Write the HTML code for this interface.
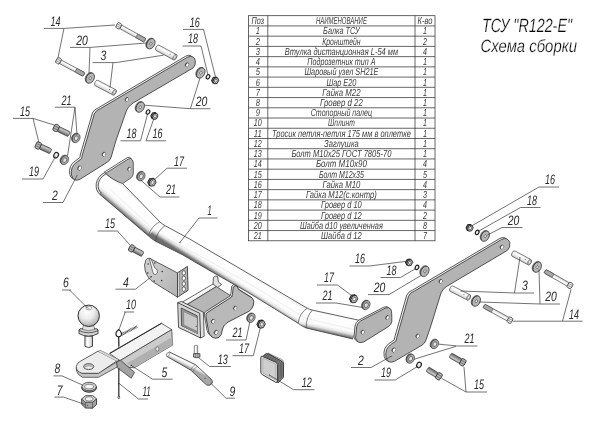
<!DOCTYPE html>
<html><head><meta charset="utf-8"><title>TSU R122-E</title>
<style>
html,body{margin:0;padding:0;background:#fff;}
svg{display:block}
text{font-family:"Liberation Sans",sans-serif;font-style:italic;fill:#2b2b2b;text-rendering:geometricPrecision;}
.lb{fill:#2a2a2a;}
.tb{fill:#3a3a3a}
.tt{stroke:#fff;stroke-width:0.25px;paint-order:fill stroke;fill:#080808}
</style></head><body>
<svg width="600" height="424" viewBox="0 0 600 424">
<defs>
<linearGradient id="gcyl" x1="0" y1="0" x2="0" y2="1">
<stop offset="0" stop-color="#e9e9e9"/><stop offset="0.3" stop-color="#ffffff"/><stop offset="0.75" stop-color="#e2e2e2"/><stop offset="1" stop-color="#bdbdbd"/>
</linearGradient>
<linearGradient id="gtube" x1="0" y1="0" x2="0" y2="1">
<stop offset="0" stop-color="#f0f0f0"/><stop offset="0.25" stop-color="#ffffff"/><stop offset="0.7" stop-color="#f1f1f1"/><stop offset="0.92" stop-color="#cfcfcf"/><stop offset="1" stop-color="#b0b0b0"/>
</linearGradient>
<radialGradient id="gball" cx="0.42" cy="0.32" r="0.75">
<stop offset="0" stop-color="#ffffff"/><stop offset="0.45" stop-color="#ececec"/><stop offset="0.8" stop-color="#bcbcbc"/><stop offset="1" stop-color="#888888"/>
</radialGradient>
<linearGradient id="gtubeL" gradientUnits="userSpaceOnUse" x1="141" y1="202.5" x2="128" y2="218">
<stop offset="0" stop-color="#f3f3f3"/><stop offset="0.1" stop-color="#ffffff"/><stop offset="0.66" stop-color="#fbfbfb"/><stop offset="0.8" stop-color="#e2e2e2"/><stop offset="0.9" stop-color="#a6a6a6"/><stop offset="1" stop-color="#6e6e6e"/></linearGradient>
<linearGradient id="gtubeC" gradientUnits="userSpaceOnUse" x1="236" y1="266.3" x2="227" y2="280.8">
<stop offset="0" stop-color="#f3f3f3"/><stop offset="0.1" stop-color="#ffffff"/><stop offset="0.66" stop-color="#fbfbfb"/><stop offset="0.8" stop-color="#e2e2e2"/><stop offset="0.9" stop-color="#a6a6a6"/><stop offset="1" stop-color="#6e6e6e"/></linearGradient>
<linearGradient id="gtubeR" gradientUnits="userSpaceOnUse" x1="335" y1="315" x2="331" y2="333.8">
<stop offset="0" stop-color="#f3f3f3"/><stop offset="0.1" stop-color="#ffffff"/><stop offset="0.66" stop-color="#fbfbfb"/><stop offset="0.8" stop-color="#e2e2e2"/><stop offset="0.9" stop-color="#a6a6a6"/><stop offset="1" stop-color="#6e6e6e"/></linearGradient>
<linearGradient id="gshank" x1="0" y1="0" x2="1" y2="0">
<stop offset="0" stop-color="#d5d5d5"/><stop offset="0.35" stop-color="#ffffff"/><stop offset="0.75" stop-color="#e0e0e0"/><stop offset="1" stop-color="#b0b0b0"/></linearGradient>
<linearGradient id="gthr" x1="0" y1="0" x2="0" y2="1">
<stop offset="0" stop-color="#9a9a9a"/><stop offset="0.3" stop-color="#c4c4c4"/><stop offset="0.7" stop-color="#8c8c8c"/><stop offset="1" stop-color="#666"/></linearGradient>
<linearGradient id="gpin" gradientUnits="userSpaceOnUse" x1="190" y1="362" x2="187.5" y2="367">
<stop offset="0" stop-color="#dcdcdc"/><stop offset="0.3" stop-color="#ffffff"/><stop offset="0.7" stop-color="#dedede"/><stop offset="1" stop-color="#a8a8a8"/></linearGradient>
<linearGradient id="gsock" gradientUnits="userSpaceOnUse" x1="145" y1="270" x2="178" y2="285">
<stop offset="0" stop-color="#cfcfcf"/><stop offset="1" stop-color="#b6b6b6"/></linearGradient>
</defs>
<rect width="600" height="424" fill="#fff"/>
<mask id="mm" maskUnits="userSpaceOnUse" x="0" y="0" width="600" height="424"><rect width="600" height="424" fill="#fff"/></mask>
<g mask="url(#mm)">

<g stroke="#333" stroke-width="0.75" fill="none">
<rect x="248.5" y="15.7" width="186.5" height="225.10"/>
<line x1="248.5" y1="25.93" x2="435" y2="25.93"/>
<line x1="248.5" y1="36.16" x2="435" y2="36.16"/>
<line x1="248.5" y1="46.40" x2="435" y2="46.40"/>
<line x1="248.5" y1="56.63" x2="435" y2="56.63"/>
<line x1="248.5" y1="66.86" x2="435" y2="66.86"/>
<line x1="248.5" y1="77.09" x2="435" y2="77.09"/>
<line x1="248.5" y1="87.32" x2="435" y2="87.32"/>
<line x1="248.5" y1="97.55" x2="435" y2="97.55"/>
<line x1="248.5" y1="107.79" x2="435" y2="107.79"/>
<line x1="248.5" y1="118.02" x2="435" y2="118.02"/>
<line x1="248.5" y1="128.25" x2="435" y2="128.25"/>
<line x1="248.5" y1="138.48" x2="435" y2="138.48"/>
<line x1="248.5" y1="148.71" x2="435" y2="148.71"/>
<line x1="248.5" y1="158.95" x2="435" y2="158.95"/>
<line x1="248.5" y1="169.18" x2="435" y2="169.18"/>
<line x1="248.5" y1="179.41" x2="435" y2="179.41"/>
<line x1="248.5" y1="189.64" x2="435" y2="189.64"/>
<line x1="248.5" y1="199.87" x2="435" y2="199.87"/>
<line x1="248.5" y1="210.10" x2="435" y2="210.10"/>
<line x1="248.5" y1="220.34" x2="435" y2="220.34"/>
<line x1="248.5" y1="230.57" x2="435" y2="230.57"/>
<line x1="267.8" y1="15.7" x2="267.8" y2="240.80"/>
<line x1="415" y1="15.7" x2="415" y2="240.80"/>
</g>
<text x="257.84999999999997" y="24.13" font-size="10.2" text-anchor="middle" textLength="12.5" lengthAdjust="spacingAndGlyphs" class="tb">Поз</text>
<text x="341.4" y="24.13" font-size="10.2" text-anchor="middle" textLength="51" lengthAdjust="spacingAndGlyphs" class="tb">НАИМЕНОВАНИЕ</text>
<text x="425.0" y="24.13" font-size="10.2" text-anchor="middle" textLength="15" lengthAdjust="spacingAndGlyphs" class="tb">К-во</text>
<text x="257.84999999999997" y="34.36" font-size="10.2" text-anchor="middle" textLength="4.2" lengthAdjust="spacingAndGlyphs" class="tb">1</text>
<text x="341.4" y="34.36" font-size="10.2" text-anchor="middle" textLength="36.6" lengthAdjust="spacingAndGlyphs" class="tb">Балка ТСУ</text>
<text x="425.0" y="34.36" font-size="10.2" text-anchor="middle" textLength="4.0" lengthAdjust="spacingAndGlyphs" class="tb">1</text>
<text x="257.84999999999997" y="44.60" font-size="10.2" text-anchor="middle" textLength="4.2" lengthAdjust="spacingAndGlyphs" class="tb">2</text>
<text x="341.4" y="44.60" font-size="10.2" text-anchor="middle" textLength="38.3" lengthAdjust="spacingAndGlyphs" class="tb">Кронштейн</text>
<text x="425.0" y="44.60" font-size="10.2" text-anchor="middle" textLength="4.0" lengthAdjust="spacingAndGlyphs" class="tb">2</text>
<text x="257.84999999999997" y="54.83" font-size="10.2" text-anchor="middle" textLength="4.2" lengthAdjust="spacingAndGlyphs" class="tb">3</text>
<text x="341.4" y="54.83" font-size="10.2" text-anchor="middle" textLength="113.3" lengthAdjust="spacingAndGlyphs" class="tb">Втулка дистанционная L-54 мм</text>
<text x="425.0" y="54.83" font-size="10.2" text-anchor="middle" textLength="4.0" lengthAdjust="spacingAndGlyphs" class="tb">4</text>
<text x="257.84999999999997" y="65.06" font-size="10.2" text-anchor="middle" textLength="4.2" lengthAdjust="spacingAndGlyphs" class="tb">4</text>
<text x="341.4" y="65.06" font-size="10.2" text-anchor="middle" textLength="68.3" lengthAdjust="spacingAndGlyphs" class="tb">Подрозетник тип А</text>
<text x="425.0" y="65.06" font-size="10.2" text-anchor="middle" textLength="4.0" lengthAdjust="spacingAndGlyphs" class="tb">1</text>
<text x="257.84999999999997" y="75.29" font-size="10.2" text-anchor="middle" textLength="4.2" lengthAdjust="spacingAndGlyphs" class="tb">5</text>
<text x="341.4" y="75.29" font-size="10.2" text-anchor="middle" textLength="74" lengthAdjust="spacingAndGlyphs" class="tb">Шаровый узел SH21E</text>
<text x="425.0" y="75.29" font-size="10.2" text-anchor="middle" textLength="4.0" lengthAdjust="spacingAndGlyphs" class="tb">1</text>
<text x="257.84999999999997" y="85.52" font-size="10.2" text-anchor="middle" textLength="4.2" lengthAdjust="spacingAndGlyphs" class="tb">6</text>
<text x="341.4" y="85.52" font-size="10.2" text-anchor="middle" textLength="30" lengthAdjust="spacingAndGlyphs" class="tb">Шар Е20</text>
<text x="425.0" y="85.52" font-size="10.2" text-anchor="middle" textLength="4.0" lengthAdjust="spacingAndGlyphs" class="tb">1</text>
<text x="257.84999999999997" y="95.75" font-size="10.2" text-anchor="middle" textLength="4.2" lengthAdjust="spacingAndGlyphs" class="tb">7</text>
<text x="341.4" y="95.75" font-size="10.2" text-anchor="middle" textLength="38.3" lengthAdjust="spacingAndGlyphs" class="tb">Гайка М22</text>
<text x="425.0" y="95.75" font-size="10.2" text-anchor="middle" textLength="4.0" lengthAdjust="spacingAndGlyphs" class="tb">1</text>
<text x="257.84999999999997" y="105.99" font-size="10.2" text-anchor="middle" textLength="4.2" lengthAdjust="spacingAndGlyphs" class="tb">8</text>
<text x="341.4" y="105.99" font-size="10.2" text-anchor="middle" textLength="42.7" lengthAdjust="spacingAndGlyphs" class="tb">Гровер d 22</text>
<text x="425.0" y="105.99" font-size="10.2" text-anchor="middle" textLength="4.0" lengthAdjust="spacingAndGlyphs" class="tb">1</text>
<text x="257.84999999999997" y="116.22" font-size="10.2" text-anchor="middle" textLength="4.2" lengthAdjust="spacingAndGlyphs" class="tb">9</text>
<text x="341.4" y="116.22" font-size="10.2" text-anchor="middle" textLength="61.3" lengthAdjust="spacingAndGlyphs" class="tb">Стопорный палец</text>
<text x="425.0" y="116.22" font-size="10.2" text-anchor="middle" textLength="4.0" lengthAdjust="spacingAndGlyphs" class="tb">1</text>
<text x="257.84999999999997" y="126.45" font-size="10.2" text-anchor="middle" textLength="8.0" lengthAdjust="spacingAndGlyphs" class="tb">10</text>
<text x="341.4" y="126.45" font-size="10.2" text-anchor="middle" textLength="26.7" lengthAdjust="spacingAndGlyphs" class="tb">Шплинт</text>
<text x="425.0" y="126.45" font-size="10.2" text-anchor="middle" textLength="4.0" lengthAdjust="spacingAndGlyphs" class="tb">1</text>
<text x="257.84999999999997" y="136.68" font-size="10.2" text-anchor="middle" textLength="8.0" lengthAdjust="spacingAndGlyphs" class="tb">11</text>
<text x="341.4" y="136.68" font-size="10.2" text-anchor="middle" textLength="138.9" lengthAdjust="spacingAndGlyphs" class="tb">Тросик петля-петля 175 мм в оплетке</text>
<text x="425.0" y="136.68" font-size="10.2" text-anchor="middle" textLength="4.0" lengthAdjust="spacingAndGlyphs" class="tb">1</text>
<text x="257.84999999999997" y="146.91" font-size="10.2" text-anchor="middle" textLength="8.0" lengthAdjust="spacingAndGlyphs" class="tb">12</text>
<text x="341.4" y="146.91" font-size="10.2" text-anchor="middle" textLength="34.7" lengthAdjust="spacingAndGlyphs" class="tb">Заглушка</text>
<text x="425.0" y="146.91" font-size="10.2" text-anchor="middle" textLength="4.0" lengthAdjust="spacingAndGlyphs" class="tb">1</text>
<text x="257.84999999999997" y="157.15" font-size="10.2" text-anchor="middle" textLength="8.0" lengthAdjust="spacingAndGlyphs" class="tb">13</text>
<text x="341.4" y="157.15" font-size="10.2" text-anchor="middle" textLength="100" lengthAdjust="spacingAndGlyphs" class="tb">Болт М10х25 ГОСТ 7805-70</text>
<text x="425.0" y="157.15" font-size="10.2" text-anchor="middle" textLength="4.0" lengthAdjust="spacingAndGlyphs" class="tb">1</text>
<text x="257.84999999999997" y="167.38" font-size="10.2" text-anchor="middle" textLength="8.0" lengthAdjust="spacingAndGlyphs" class="tb">14</text>
<text x="341.4" y="167.38" font-size="10.2" text-anchor="middle" textLength="51" lengthAdjust="spacingAndGlyphs" class="tb">Болт  М10х90</text>
<text x="425.0" y="167.38" font-size="10.2" text-anchor="middle" textLength="4.0" lengthAdjust="spacingAndGlyphs" class="tb">4</text>
<text x="257.84999999999997" y="177.61" font-size="10.2" text-anchor="middle" textLength="8.0" lengthAdjust="spacingAndGlyphs" class="tb">15</text>
<text x="341.4" y="177.61" font-size="10.2" text-anchor="middle" textLength="45" lengthAdjust="spacingAndGlyphs" class="tb">Болт М12х35</text>
<text x="425.0" y="177.61" font-size="10.2" text-anchor="middle" textLength="4.0" lengthAdjust="spacingAndGlyphs" class="tb">5</text>
<text x="257.84999999999997" y="187.84" font-size="10.2" text-anchor="middle" textLength="8.0" lengthAdjust="spacingAndGlyphs" class="tb">16</text>
<text x="341.4" y="187.84" font-size="10.2" text-anchor="middle" textLength="37.7" lengthAdjust="spacingAndGlyphs" class="tb">Гайка М10</text>
<text x="425.0" y="187.84" font-size="10.2" text-anchor="middle" textLength="4.0" lengthAdjust="spacingAndGlyphs" class="tb">4</text>
<text x="257.84999999999997" y="198.07" font-size="10.2" text-anchor="middle" textLength="8.0" lengthAdjust="spacingAndGlyphs" class="tb">17</text>
<text x="341.4" y="198.07" font-size="10.2" text-anchor="middle" textLength="70.9" lengthAdjust="spacingAndGlyphs" class="tb">Гайка М12(с.контр)</text>
<text x="425.0" y="198.07" font-size="10.2" text-anchor="middle" textLength="4.0" lengthAdjust="spacingAndGlyphs" class="tb">3</text>
<text x="257.84999999999997" y="208.30" font-size="10.2" text-anchor="middle" textLength="8.0" lengthAdjust="spacingAndGlyphs" class="tb">18</text>
<text x="341.4" y="208.30" font-size="10.2" text-anchor="middle" textLength="40.7" lengthAdjust="spacingAndGlyphs" class="tb">Гровер d 10</text>
<text x="425.0" y="208.30" font-size="10.2" text-anchor="middle" textLength="4.0" lengthAdjust="spacingAndGlyphs" class="tb">4</text>
<text x="257.84999999999997" y="218.54" font-size="10.2" text-anchor="middle" textLength="8.0" lengthAdjust="spacingAndGlyphs" class="tb">19</text>
<text x="341.4" y="218.54" font-size="10.2" text-anchor="middle" textLength="40.7" lengthAdjust="spacingAndGlyphs" class="tb">Гровер d 12</text>
<text x="425.0" y="218.54" font-size="10.2" text-anchor="middle" textLength="4.0" lengthAdjust="spacingAndGlyphs" class="tb">2</text>
<text x="257.84999999999997" y="228.77" font-size="10.2" text-anchor="middle" textLength="8.0" lengthAdjust="spacingAndGlyphs" class="tb">20</text>
<text x="341.4" y="228.77" font-size="10.2" text-anchor="middle" textLength="83" lengthAdjust="spacingAndGlyphs" class="tb">Шайба d10 увеличенная</text>
<text x="425.0" y="228.77" font-size="10.2" text-anchor="middle" textLength="4.0" lengthAdjust="spacingAndGlyphs" class="tb">8</text>
<text x="257.84999999999997" y="239.00" font-size="10.2" text-anchor="middle" textLength="8.0" lengthAdjust="spacingAndGlyphs" class="tb">21</text>
<text x="341.4" y="239.00" font-size="10.2" text-anchor="middle" textLength="40.7" lengthAdjust="spacingAndGlyphs" class="tb">Шайба d 12</text>
<text x="425.0" y="239.00" font-size="10.2" text-anchor="middle" textLength="4.0" lengthAdjust="spacingAndGlyphs" class="tb">7</text>
<text x="482" y="32.2" font-size="19.3" textLength="90" lengthAdjust="spacingAndGlyphs" class="tt">ТСУ "R122-E"</text>
<text x="480.5" y="52.2" font-size="17.8" textLength="96.5" lengthAdjust="spacingAndGlyphs" class="tt">Схема сборки</text>
<g stroke-linejoin="round">
<path d="M104.5,173 L122.7,183.6 L159.8,221.8 L148.5,235.9 L99.7,194.2 Q95.5,190 96.3,183.5 Q98,176.5 104.5,173 Z" fill="url(#gtubeL)" stroke="none"/>
<path d="M159.8,221.8 L165.1,225.7 L190,239.2 L250,274.5 L307.2,308.2 L298.2,323.3 L250,293.6 L200,265 L183,255 L155.5,241.2 L148.5,235.9 Z" fill="url(#gtubeC)" stroke="none"/>
<path d="M307.2,308.2 L312.4,310.1 L360.6,320.6 L353,339 L306.2,328 L298.2,323.3 Z" fill="url(#gtubeR)" stroke="none"/>
<path d="M122.7,183.6 L159.8,221.8 Q162.2,224 165.1,225.7 L190,239.2 L250,274.5 L307.2,308.2 Q309.5,309.5 312.4,310.1 L360.6,320.6" fill="none" stroke="#2e2e2e" stroke-width="0.75"/>
<path d="M99.7,194.2 L148.5,235.9 Q151.6,239 155.5,241.2 L183,255 L200,265 L250,293.6 L298.2,323.3 Q302,326.4 306.2,328 L353,339" fill="none" stroke="#3a3a3a" stroke-width="0.8"/>
<path d="M110,189 L155.5,231.5 Q158,233.8 160.5,235.3 L200,256 L250,284 L301,315.5 Q305,318 308,318.8 L356,330" fill="none" stroke="#dadada" stroke-width="0.4"/>
<path d="M159.8,221.8 Q150.75,226.45000000000002 148.5,235.9" fill="none" stroke="#333" stroke-width="0.6"/>
<path d="M165.1,225.7 Q156.9,231.04999999999998 155.5,241.2" fill="none" stroke="#333" stroke-width="0.6"/>
<path d="M307.2,308.2 Q299.3,313.35 298.2,323.3" fill="none" stroke="#333" stroke-width="0.6"/>
<path d="M312.4,310.1 Q305.9,316.65000000000003 306.2,328" fill="none" stroke="#333" stroke-width="0.6"/>
<path d="M105.6,173.3 L128.6,158.8 Q131.3,157.6 132.6,160 L133.3,163 L133.3,173.6 Q133,176.3 131,177.8 L122.7,183.6 Q113,180.5 105.6,173.3 Z" transform="translate(-1.3,-1.2)" fill="#f4f4f4" stroke="#2e2e2e" stroke-width="0.75" stroke-linejoin="round"/>
<path d="M105.6,173.3 L128.6,158.8 Q131.3,157.6 132.6,160 L133.3,163 L133.3,173.6 Q133,176.3 131,177.8 L122.7,183.6 Q113,180.5 105.6,173.3 Z" fill="#b3b3b3" stroke="#2e2e2e" stroke-width="0.7" stroke-linejoin="round"/>
<g transform="translate(129.2,169) rotate(28)"><ellipse rx="1.5" ry="2.0" fill="#5a5a5a" stroke="#2a2a2a" stroke-width="0.55"/><ellipse cx="0.45" rx="1.05" ry="1.75" fill="#fafafa"/></g>
<path d="M104.5,172.6 Q97.5,176.5 96.2,183.8 Q95.4,190.5 99.9,194.4 L101.2,193.2 Q97.6,189.8 98.3,184 Q99.4,177.6 105.8,174 Z" fill="#e9e9e9" stroke="#2e2e2e" stroke-width="0.75" stroke-linejoin="round"/>
</g>
<path d="M360.5,321 L385.5,308 Q389,306.5 391,309.5 Q392,312 391.8,321.5 Q391.5,324.5 388.5,326.5 L364,341.8 Q357.5,344.5 355.6,338 L356.6,327 Q357.3,322.8 360.5,321 Z" transform="translate(-1.6,-0.9)" fill="#f2f2f2" stroke="#2e2e2e" stroke-width="0.8" stroke-linejoin="round"/>
<path d="M360.5,321 L385.5,308 Q389,306.5 391,309.5 Q392,312 391.8,321.5 Q391.5,324.5 388.5,326.5 L364,341.8 Q357.5,344.5 355.6,338 L356.6,327 Q357.3,322.8 360.5,321 Z" fill="#b3b3b3" stroke="#2e2e2e" stroke-width="0.8" stroke-linejoin="round"/>
<g transform="translate(387.3,317.5) rotate(28)"><ellipse rx="1.5" ry="2.0" fill="#5a5a5a" stroke="#2a2a2a" stroke-width="0.55"/><ellipse cx="0.45" rx="1.05" ry="1.75" fill="#fafafa"/></g>
<g transform="translate(362.6,332) rotate(28)"><ellipse rx="1.5" ry="2.0" fill="#5a5a5a" stroke="#2a2a2a" stroke-width="0.55"/><ellipse cx="0.45" rx="1.05" ry="1.75" fill="#fafafa"/></g>
<path d="M100.5,108.6 L187.5,57.2 Q193.5,54.4 195.3,60.5 Q196,65.5 193,68 L133,103 Q128,106 126.3,111 L115.8,141 L111.2,157 Q110.3,160.3 107.5,162 L80,179.3 Q73.5,182.3 71.6,175.5 Q70,166.5 77,162 L81.6,158.6 L82.3,155 L94.3,113.8 Q95.8,110.3 100.5,108.6 Z" transform="translate(-1.8,-1.0)" fill="#f2f2f2" stroke="#2e2e2e" stroke-width="0.8" stroke-linejoin="round"/>
<path d="M100.5,108.6 L187.5,57.2 Q193.5,54.4 195.3,60.5 Q196,65.5 193,68 L133,103 Q128,106 126.3,111 L115.8,141 L111.2,157 Q110.3,160.3 107.5,162 L80,179.3 Q73.5,182.3 71.6,175.5 Q70,166.5 77,162 L81.6,158.6 L82.3,155 L94.3,113.8 Q95.8,110.3 100.5,108.6 Z" fill="#b3b3b3" stroke="#2e2e2e" stroke-width="0.8" stroke-linejoin="round"/>
<g transform="translate(187,64.8) rotate(28)"><ellipse rx="1.6" ry="2.1" fill="#5a5a5a" stroke="#2a2a2a" stroke-width="0.55"/><ellipse cx="0.45" rx="1.1500000000000001" ry="1.85" fill="#fafafa"/></g>
<g transform="translate(126.8,99.4) rotate(28)"><ellipse rx="1.5" ry="2.0" fill="#5a5a5a" stroke="#2a2a2a" stroke-width="0.55"/><ellipse cx="0.45" rx="1.05" ry="1.75" fill="#fafafa"/></g>
<g transform="translate(103.8,154.2) rotate(28)"><ellipse rx="1.6" ry="2.1" fill="#5a5a5a" stroke="#2a2a2a" stroke-width="0.55"/><ellipse cx="0.45" rx="1.1500000000000001" ry="1.85" fill="#fafafa"/></g>
<g transform="translate(79.5,168) rotate(28)"><ellipse rx="1.7" ry="2.2" fill="#5a5a5a" stroke="#2a2a2a" stroke-width="0.55"/><ellipse cx="0.45" rx="1.25" ry="1.9500000000000002" fill="#fafafa"/></g>
<circle cx="77" cy="175.3" r="0.5" fill="#333"/>
<path d="M414.5,291 L501.5,239.5 Q507.5,236.5 509.8,242.5 Q510.5,247.5 507.5,250.3 L446.5,286.5 Q442.5,289 441,293 L430.5,327 L426,340 Q425,343.3 422.2,345 L394.5,361.3 Q388,364.3 386,357.5 Q384.5,348.5 391.5,344 L396,341 L396.8,337.4 L408.5,296.3 Q410,292.6 414.5,291 Z" transform="translate(-1.8,-1.0)" fill="#f2f2f2" stroke="#2e2e2e" stroke-width="0.8" stroke-linejoin="round"/>
<path d="M414.5,291 L501.5,239.5 Q507.5,236.5 509.8,242.5 Q510.5,247.5 507.5,250.3 L446.5,286.5 Q442.5,289 441,293 L430.5,327 L426,340 Q425,343.3 422.2,345 L394.5,361.3 Q388,364.3 386,357.5 Q384.5,348.5 391.5,344 L396,341 L396.8,337.4 L408.5,296.3 Q410,292.6 414.5,291 Z" fill="#b3b3b3" stroke="#2e2e2e" stroke-width="0.8" stroke-linejoin="round"/>
<g transform="translate(501.8,247) rotate(28)"><ellipse rx="1.6" ry="2.1" fill="#5a5a5a" stroke="#2a2a2a" stroke-width="0.55"/><ellipse cx="0.45" rx="1.1500000000000001" ry="1.85" fill="#fafafa"/></g>
<g transform="translate(440.6,281.3) rotate(28)"><ellipse rx="1.5" ry="2.0" fill="#5a5a5a" stroke="#2a2a2a" stroke-width="0.55"/><ellipse cx="0.45" rx="1.05" ry="1.75" fill="#fafafa"/></g>
<g transform="translate(417.6,336) rotate(28)"><ellipse rx="1.6" ry="2.1" fill="#5a5a5a" stroke="#2a2a2a" stroke-width="0.55"/><ellipse cx="0.45" rx="1.1500000000000001" ry="1.85" fill="#fafafa"/></g>
<g transform="translate(393.8,350) rotate(28)"><ellipse rx="1.7" ry="2.2" fill="#5a5a5a" stroke="#2a2a2a" stroke-width="0.55"/><ellipse cx="0.45" rx="1.25" ry="1.9500000000000002" fill="#fafafa"/></g>
<circle cx="391.2" cy="356.3" r="0.5" fill="#333"/>
<path d="M177.5,272.9 L187.4,266.4 L188.1,290.3 L177.5,297.1 Z" fill="#b4b4b4" stroke="#2e2e2e" stroke-width="0.85" stroke-linejoin="round"/>
<path d="M177.5,272.9 L179.3,271.8 L179.3,296 L177.5,297.1 Z" fill="#e6e6e6" stroke="#2e2e2e" stroke-width="0.4"/>
<ellipse cx="183.8" cy="272.9" rx="1.7" ry="2.2" fill="#fbfbfb" stroke="#2a2a2a" stroke-width="0.6"/>
<ellipse cx="183.8" cy="278.3" rx="1.7" ry="2.2" fill="#fbfbfb" stroke="#2a2a2a" stroke-width="0.6"/>
<ellipse cx="183.8" cy="283.9" rx="1.7" ry="2.2" fill="#fbfbfb" stroke="#2a2a2a" stroke-width="0.6"/>
<ellipse cx="183.8" cy="289.2" rx="1.7" ry="2.2" fill="#fbfbfb" stroke="#2a2a2a" stroke-width="0.6"/>
<path d="M149.6,258.3 L177.5,272.9 L177.5,297.1 L154.2,282.7 Q147.5,278.5 145.3,271 Q143.6,264.5 145.8,260.3 Q147.3,257.6 149.6,258.3 Z" fill="url(#gsock)" stroke="#2e2e2e" stroke-width="0.75" stroke-linejoin="round"/>
<path d="M149.4,258.8 L152.6,271.3 Q153,274.8 155.6,274.6 Q158,273.6 157.3,270.6 Q156.5,268.6 154.6,267.6 L151,258.7 Z" fill="#f8f8f8" stroke="#2a2a2a" stroke-width="0.6" stroke-linejoin="round"/>
<circle cx="148.1" cy="263.9" r="0.75" fill="#2a2a2a"/>
<circle cx="154.9" cy="263.1" r="0.75" fill="#2a2a2a"/>
<circle cx="147.8" cy="272.9" r="0.75" fill="#2a2a2a"/>
<circle cx="162.2" cy="271.4" r="0.75" fill="#2a2a2a"/>
<circle cx="151.1" cy="276.7" r="0.75" fill="#2a2a2a"/>
<circle cx="154.2" cy="280.9" r="0.75" fill="#2a2a2a"/>
<circle cx="161.7" cy="280.5" r="0.75" fill="#2a2a2a"/>
<path d="M213,285 L213.4,277.4 Q215.5,275.4 217.6,276.4 L218.4,282 L221.5,284.5 L217,288 Z" fill="#e2e2e2" stroke="#2e2e2e" stroke-width="0.75" stroke-linejoin="round"/>
<path d="M181.3,302.7 L213,284 L216.3,286.6 L187,304.6 Z" fill="#f6f6f6" stroke="#2e2e2e" stroke-width="0.7" stroke-linejoin="round"/>
<path d="M187,304.6 L216.3,286.6 L232,296.6 L204.2,313.3 Z" fill="#b6b6b6" stroke="#2e2e2e" stroke-width="0.7" stroke-linejoin="round"/>
<path d="M231.6,297 L232.4,294.5 L233.3,287 Q234.8,285 237,286 L238.6,289.5 L252.5,298.2 Q254.6,301 253.4,305 Q252,309.5 249,311.3 L228,322.1 Q223.4,324.6 222.5,329 L221.3,334.5 Q219.6,338.4 215.5,338.3 Q210.6,337.5 208.6,331.8 L206.8,321.2 L205.9,316.3 Q205.6,313.8 207.2,312.6 Z" transform="translate(-1.5,-1.1)" fill="#f0f0f0" stroke="#2e2e2e" stroke-width="0.75" stroke-linejoin="round"/>
<path d="M231.6,297 L232.4,294.5 L233.3,287 Q234.8,285 237,286 L238.6,289.5 L252.5,298.2 Q254.6,301 253.4,305 Q252,309.5 249,311.3 L228,322.1 Q223.4,324.6 222.5,329 L221.3,334.5 Q219.6,338.4 215.5,338.3 Q210.6,337.5 208.6,331.8 L206.8,321.2 L205.9,316.3 Q205.6,313.8 207.2,312.6 Z" fill="#b9b9b9" stroke="#2e2e2e" stroke-width="0.85" stroke-linejoin="round"/>
<g transform="translate(235.1,308) rotate(28)"><ellipse rx="1.5" ry="2.0" fill="#5a5a5a" stroke="#2a2a2a" stroke-width="0.55"/><ellipse cx="0.45" rx="1.05" ry="1.75" fill="#fafafa"/></g>
<g transform="translate(213,321.2) rotate(28)"><ellipse rx="1.6" ry="2.1" fill="#5a5a5a" stroke="#2a2a2a" stroke-width="0.55"/><ellipse cx="0.45" rx="1.1500000000000001" ry="1.85" fill="#fafafa"/></g>
<g transform="translate(216,332.3) rotate(28)"><ellipse rx="1.7" ry="2.2" fill="#5a5a5a" stroke="#2a2a2a" stroke-width="0.55"/><ellipse cx="0.45" rx="1.25" ry="1.9500000000000002" fill="#fafafa"/></g>
<path d="M177.7,302.7 L181.3,301.4 L203.4,312.2 L204.2,336.3 L200.6,338 Z" fill="#dedede" stroke="#2e2e2e" stroke-width="0.75" stroke-linejoin="round"/>
<path d="M177.7,302.7 L199.7,313.3 L200.6,338 L178.5,327.4 Z" fill="#d6d6d6" stroke="#2a2a2a" stroke-width="0.8" stroke-linejoin="round"/>
<path d="M181.2,308 L197.2,315.8 L197.6,333.4 L181.6,325.6 Z" fill="#9c9c9c" stroke="#2e2e2e" stroke-width="0.75" stroke-linejoin="round"/>
<path d="M183.6,311.6 L197.3,318 L197.6,333.4 L183.8,326.6 Z" fill="#c8c8c8" stroke="#555" stroke-width="0.4" stroke-linejoin="round"/>
<path d="M183.8,324.6 L197.6,331.2 L197.6,333.4 L183.8,326.6 Z" fill="#8a8a8a" stroke="none"/>
<circle cx="196.2" cy="326.2" r="0.55" fill="#222"/>
<path d="M84.9,336 L84.9,346.3 Q88.7,348.8 92.5,346.3 L92.5,336 Z" fill="url(#gshank)" stroke="#262626" stroke-width="0.8"/>
<path d="M79,330.2 L80,328.8 L97,328.8 L98,330.2 L98,333.6 Q88.5,338.8 79,333.6 Z" fill="#d4d4d4" stroke="#262626" stroke-width="0.85" stroke-linejoin="round"/>
<path d="M79,330.6 Q88.5,335 98,330.6" fill="none" stroke="#333" stroke-width="0.75"/>
<path d="M83.6,324 L93.6,324 L94.6,329.5 Q88.6,332 82.6,329.5 Z" fill="#e2e2e2" stroke="#2e2e2e" stroke-width="0.5"/>
<circle cx="88.7" cy="315.8" r="10.7" fill="url(#gball)" stroke="#262626" stroke-width="0.95"/>
<ellipse cx="88.9" cy="308.2" rx="3.0" ry="1.7" fill="#fafafa" stroke="#444" stroke-width="0.45"/>
<circle cx="88.9" cy="308.6" r="0.4" fill="#222"/>
<line x1="118.8" y1="336.5" x2="118.8" y2="397" stroke="#2a2a2a" stroke-width="0.8"/>
<path d="M109.4,353.3 L161.3,323.2 L171.7,329.6 L119.8,360.8 Z" fill="#f3f3f3" stroke="#2e2e2e" stroke-width="0.7" stroke-linejoin="round"/>
<path d="M110,353.4 L161.5,323.4" stroke="#2a2a2a" stroke-width="1.0" fill="none"/>
<path d="M119.8,360.8 L171.7,329.6 L172.7,345 L134.3,367.8 L119.8,366.5 Z" fill="#cbcbcb" stroke="#2e2e2e" stroke-width="0.7" stroke-linejoin="round"/>
<path d="M127,363.5 L172.2,337 L172.7,345 L134.3,367.8 Z" fill="#b0b0b0" stroke="none"/>
<ellipse cx="157.3" cy="349" rx="1.6" ry="2.1" fill="#eee" stroke="#333" stroke-width="0.5"/>
<path d="M76.2,367.5 L76.6,371 Q77.5,375 82.5,377.3 L98.5,377.3 L117.5,366.8 L117,362 L98,373 L82,373 Z" fill="#c6c6c6" stroke="#2e2e2e" stroke-width="0.7" stroke-linejoin="round"/>
<path d="M98,351.2 L116.9,360.9 L98.6,373.3 L82,373.3 Q75.6,371 76.3,366.3 Q77,363 80.3,361.3 Z" fill="#ececec" stroke="#2e2e2e" stroke-width="0.75" stroke-linejoin="round"/>
<ellipse cx="88.7" cy="366.6" rx="5.1" ry="3.0" fill="#bdbdbd" stroke="#2e2e2e" stroke-width="0.7"/>
<path d="M84,367.6 Q88.7,371 93.5,367.3 Q88.7,364.6 84,367.6 Z" fill="#f2f2f2" stroke="#555" stroke-width="0.35"/>
<path d="M98,351.2 L100.5,350.3 L119.5,360 L116.9,360.9" fill="#ddd" stroke="#2e2e2e" stroke-width="0.45" stroke-linejoin="round"/>
<path d="M116.7,361.8 L120.6,360.3 L134.6,372.3 L131.2,378.2 L117.3,367.8 Z" fill="#a2a2a2" stroke="#2e2e2e" stroke-width="0.7" stroke-linejoin="round"/>
<line x1="118.8" y1="368" x2="118.8" y2="397" stroke="#2a2a2a" stroke-width="0.8"/>
<ellipse cx="118.8" cy="397.3" rx="0.9" ry="1.3" fill="#fff" stroke="#222" stroke-width="0.75"/>
<circle cx="118.8" cy="383.6" r="0.7" fill="#222"/>
<path d="M118.9,329.6 Q115,332 116.2,335.4 Q118.3,338.3 121.2,335.6 Q122.4,332.6 118.9,329.6 Z" fill="#fff" stroke="#1c1c1c" stroke-width="1.15"/>
<path d="M121.5,334.5 L137,326.6" stroke="#2a2a2a" stroke-width="2.6" stroke-dasharray="0.7,0.6" fill="none"/>
<path d="M118.6,337 L118.9,346" stroke="#222" stroke-width="0.9" fill="none"/>
<ellipse cx="89.1" cy="387.7" rx="7.4" ry="4.5" fill="#a0a0a0" stroke="#222" stroke-width="0.95"/>
<ellipse cx="89.1" cy="386.5" rx="7.2" ry="4.2" fill="#cfcfcf" stroke="#2c2c2c" stroke-width="0.7"/>
<ellipse cx="89.1" cy="386.6" rx="4.4" ry="2.3" fill="#f6f6f6" stroke="#2c2c2c" stroke-width="0.5"/>
<path d="M81.6,399 L81.8,404.5 L85.5,408 L92.5,408.2 L96.5,404.6 L96.6,399 Z" fill="#a5a5a5" stroke="#2c2c2c" stroke-width="0.85" stroke-linejoin="round"/>
<path d="M81.6,399 L85.3,395.7 L92.7,395.6 L96.6,398.8 L92.7,402.2 L85.4,402.3 Z" fill="#d0d0d0" stroke="#2c2c2c" stroke-width="0.75" stroke-linejoin="round"/>
<path d="M85.4,402.3 L85.5,408 M92.7,402.2 L92.5,408.2" stroke="#2c2c2c" stroke-width="0.5"/>
<ellipse cx="89.1" cy="398.9" rx="4.0" ry="2.2" fill="#f4f4f4" stroke="#2c2c2c" stroke-width="0.5"/>
<circle cx="87.3" cy="405.3" r="0.5" fill="#222"/>
<path d="M169.4,352 Q166.3,352.8 166.8,356.4 L190.8,370.2 L206.6,385 Q210.2,386.3 212.2,383.3 Q213,381 211,379 L195.4,364.6 Z" fill="url(#gpin)" stroke="#2e2e2e" stroke-width="0.75" stroke-linejoin="round"/>
<path d="M195.4,364.6 Q192,366.6 190.8,370.2 M197.3,366.3 Q194,368.3 192.8,372" stroke="#444" stroke-width="0.45" fill="none"/>
<ellipse cx="168" cy="354.3" rx="1.3" ry="2.3" transform="rotate(28 168 354.3)" fill="#f2f2f2" stroke="#444" stroke-width="0.4"/>
<circle cx="205" cy="378.2" r="0.55" fill="#222"/>
<rect x="194.3" y="345.4" width="3.4" height="9" rx="0.8" fill="url(#gshank)" stroke="#2e2e2e" stroke-width="0.5"/>
<path d="M193.6,353.6 L199.8,353.6 L200,357 Q196.8,358.6 193.5,357 Z" fill="#bdbdbd" stroke="#2c2c2c" stroke-width="0.75" stroke-linejoin="round"/>
<path d="M195.6,353.8 L195.6,357.6 M197.8,353.8 L197.8,357.6" stroke="#2c2c2c" stroke-width="0.4"/>
<path d="M264.5,354.6 Q266,353 268.5,353.8 L282,361.3 Q283.6,362.4 283.6,364.5 L283.4,377.5 L278,383 L262,358 Z" fill="#8c8c8c" stroke="#222" stroke-width="0.75" stroke-linejoin="round"/>
<path d="M263.59999999999997,355.64 L277.2,361.94 Q278.8,362.73999999999995 278.8,364.34 L278.7,380.52000000000004" fill="none" stroke="#2a2a2a" stroke-width="0.5"/>
<path d="M265.09999999999997,354.815 L278.7,361.115 Q280.3,361.91499999999996 280.3,363.515 L280.2,379.17" fill="none" stroke="#2a2a2a" stroke-width="0.5"/>
<path d="M266.59999999999997,353.99 L280.2,360.29 Q281.8,361.09 281.8,362.69 L281.7,377.82000000000005" fill="none" stroke="#2a2a2a" stroke-width="0.5"/>
<path d="M268.09999999999997,353.165 L281.7,359.46500000000003 Q283.3,360.265 283.3,361.865 L283.2,376.47" fill="none" stroke="#2a2a2a" stroke-width="0.5"/>
<path d="M262.4,356.3 Q260.8,355.6 260.8,357.5 L260.8,372.3 Q260.9,373.8 262.3,374.6 L275.6,382.3 Q277.4,383 277.4,381 L277.4,364.6 Q277.3,363 275.8,362.3 Z" fill="#e0e0e0" stroke="#222" stroke-width="0.85" stroke-linejoin="round"/>
<path d="M262.8,358 L275.6,364 L275.6,380 L262.8,373 Z" fill="#cfcfcf" stroke="#777" stroke-width="0.35"/>
<circle cx="269.3" cy="375" r="0.5" fill="#222"/>
<g transform="translate(117.3,25) rotate(29.00)"><rect x="3.5" y="-2.0" width="28.057091120697425" height="4.0" rx="0.8" fill="url(#gcyl)" stroke="#333" stroke-width="0.55"/><rect x="22.089963784488198" y="-2.0" width="9.467127336209227" height="4.0" rx="0.8" fill="#a8a8a8" stroke="#333" stroke-width="0.5"/><rect x="-0.6" y="-3.0" width="4.6" height="6.0" rx="1.6" fill="#ececec" stroke="#2a2a2a" stroke-width="0.7"/><line x1="-0.4" y1="-1.0" x2="4.0" y2="-1.0" stroke="#333" stroke-width="0.4"/><line x1="-0.4" y1="1.0" x2="4.0" y2="1.0" stroke="#333" stroke-width="0.4"/></g>
<g transform="translate(57,60) rotate(28.24)"><rect x="3.5" y="-2.0" width="27.14718584144391" height="4.0" rx="0.8" fill="url(#gcyl)" stroke="#333" stroke-width="0.55"/><rect x="21.453030089010735" y="-2.0" width="9.194155752433172" height="4.0" rx="0.8" fill="#a8a8a8" stroke="#333" stroke-width="0.5"/><rect x="-0.6" y="-3.0" width="4.6" height="6.0" rx="1.6" fill="#ececec" stroke="#2a2a2a" stroke-width="0.7"/><line x1="-0.4" y1="-1.0" x2="4.0" y2="-1.0" stroke="#333" stroke-width="0.4"/><line x1="-0.4" y1="1.0" x2="4.0" y2="1.0" stroke="#333" stroke-width="0.4"/></g>
<g transform="translate(150.6,43.6) rotate(28)"><ellipse cx="-0.7" cy="0" rx="3.8" ry="5.5" fill="#777" stroke="#333" stroke-width="0.5"/><ellipse cx="0.3" cy="0" rx="3.8" ry="5.5" fill="#b6b6b6" stroke="#262626" stroke-width="0.65"/><ellipse cx="0.3" cy="0" rx="1.125" ry="1.5" fill="#e8e8e8" stroke="#2e2e2e" stroke-width="0.5"/></g>
<g transform="translate(90,78) rotate(28)"><ellipse cx="-0.7" cy="0" rx="3.8" ry="5.5" fill="#777" stroke="#333" stroke-width="0.5"/><ellipse cx="0.3" cy="0" rx="3.8" ry="5.5" fill="#b6b6b6" stroke="#262626" stroke-width="0.65"/><ellipse cx="0.3" cy="0" rx="1.125" ry="1.5" fill="#e8e8e8" stroke="#2e2e2e" stroke-width="0.5"/></g>
<g transform="translate(157.5,47.8) rotate(28.26)"><path d="M0,-3.0 L19.64128305381297,-3.0 A1.6,3.0 0 0 1 19.64128305381297,3.0 L0,3.0 A1.6,3.0 0 0 1 0,-3.0 Z" fill="url(#gcyl)" stroke="#333" stroke-width="0.55"/><ellipse cx="19.64128305381297" cy="0" rx="1.6" ry="3.0" fill="#f4f4f4" stroke="#333" stroke-width="0.5"/><ellipse cx="19.64128305381297" cy="0" rx="0.9" ry="1.9" fill="#fff" stroke="#444" stroke-width="0.4"/><circle cx="14.141723798745337" cy="-0.3" r="0.45" fill="#333"/></g>
<g transform="translate(96.5,83) rotate(27.59)"><path d="M0,-3.0 L20.083077453418333,-3.0 A1.6,3.0 0 0 1 20.083077453418333,3.0 L0,3.0 A1.6,3.0 0 0 1 0,-3.0 Z" fill="url(#gcyl)" stroke="#333" stroke-width="0.55"/><ellipse cx="20.083077453418333" cy="0" rx="1.6" ry="3.0" fill="#f4f4f4" stroke="#333" stroke-width="0.5"/><ellipse cx="20.083077453418333" cy="0" rx="0.9" ry="1.9" fill="#fff" stroke="#444" stroke-width="0.4"/><circle cx="14.4598157664612" cy="-0.3" r="0.45" fill="#333"/></g>
<g transform="translate(200.6,72.8) rotate(28)"><ellipse cx="-0.7" cy="0" rx="3.8" ry="5.5" fill="#777" stroke="#333" stroke-width="0.5"/><ellipse cx="0.3" cy="0" rx="3.8" ry="5.5" fill="#b6b6b6" stroke="#262626" stroke-width="0.65"/><ellipse cx="0.3" cy="0" rx="1.125" ry="1.5" fill="#e8e8e8" stroke="#2e2e2e" stroke-width="0.5"/></g>
<g transform="translate(208,76.8) rotate(28)"><ellipse cx="0" cy="0" rx="1.7" ry="2.3" fill="#eee" stroke="#1e1e1e" stroke-width="1.15"/></g>
<g transform="translate(215.6,80.6) rotate(28)"><polygon points="2.42,1.75 0.00,3.50 -2.42,1.75 -2.42,-1.75 -0.00,-3.50 2.42,-1.75" fill="#6a6a6a" stroke="#1e1e1e" stroke-width="0.9" stroke-linejoin="round" transform="translate(-1.2,0)"/><polygon points="2.42,1.75 0.00,3.50 -2.42,1.75 -2.42,-1.75 -0.00,-3.50 2.42,-1.75" fill="#c4c4c4" stroke="#1e1e1e" stroke-width="0.8" stroke-linejoin="round" transform="translate(0.3,0)"/><ellipse cx="0.3" cy="0" rx="1.26" ry="1.61" fill="#f2f2f2" stroke="#222" stroke-width="0.55"/></g>
<g transform="translate(140,107) rotate(28)"><ellipse cx="-0.7" cy="0" rx="3.8" ry="5.5" fill="#777" stroke="#333" stroke-width="0.5"/><ellipse cx="0.3" cy="0" rx="3.8" ry="5.5" fill="#b6b6b6" stroke="#262626" stroke-width="0.65"/><ellipse cx="0.3" cy="0" rx="1.125" ry="1.5" fill="#e8e8e8" stroke="#2e2e2e" stroke-width="0.5"/></g>
<g transform="translate(148,112) rotate(28)"><ellipse cx="0" cy="0" rx="1.7" ry="2.3" fill="#eee" stroke="#1e1e1e" stroke-width="1.15"/></g>
<g transform="translate(154.8,116.2) rotate(28)"><polygon points="2.42,1.75 0.00,3.50 -2.42,1.75 -2.42,-1.75 -0.00,-3.50 2.42,-1.75" fill="#6a6a6a" stroke="#1e1e1e" stroke-width="0.9" stroke-linejoin="round" transform="translate(-1.2,0)"/><polygon points="2.42,1.75 0.00,3.50 -2.42,1.75 -2.42,-1.75 -0.00,-3.50 2.42,-1.75" fill="#c4c4c4" stroke="#1e1e1e" stroke-width="0.8" stroke-linejoin="round" transform="translate(0.3,0)"/><ellipse cx="0.3" cy="0" rx="1.26" ry="1.61" fill="#f2f2f2" stroke="#222" stroke-width="0.55"/></g>
<g transform="translate(54.6,127.2) rotate(25.93)"><rect x="3.7" y="-2.6" width="12.534839081432256" height="5.2" rx="1.2" fill="url(#gthr)" stroke="#2c2c2c" stroke-width="0.6"/><rect x="-0.8" y="-3.5" width="5.0" height="7.0" rx="1.6" fill="#b4b4b4" stroke="#262626" stroke-width="0.75"/><line x1="-0.6" y1="-1.1666666666666667" x2="4.2" y2="-1.1666666666666667" stroke="#333" stroke-width="0.45"/><line x1="-0.6" y1="1.1666666666666667" x2="4.2" y2="1.1666666666666667" stroke="#333" stroke-width="0.45"/></g>
<g transform="translate(36.6,144.8) rotate(24.93)"><rect x="3.7" y="-2.6" width="11.958863304850702" height="5.2" rx="1.2" fill="url(#gthr)" stroke="#2c2c2c" stroke-width="0.6"/><rect x="-0.8" y="-3.5" width="5.0" height="7.0" rx="1.6" fill="#b4b4b4" stroke="#262626" stroke-width="0.75"/><line x1="-0.6" y1="-1.1666666666666667" x2="4.2" y2="-1.1666666666666667" stroke="#333" stroke-width="0.45"/><line x1="-0.6" y1="1.1666666666666667" x2="4.2" y2="1.1666666666666667" stroke="#333" stroke-width="0.45"/></g>
<g transform="translate(76,138) rotate(28)"><ellipse cx="-0.7" cy="0" rx="3.6" ry="4.8" fill="#666" stroke="#2e2e2e" stroke-width="0.5"/><ellipse cx="0.3" cy="0" rx="3.6" ry="4.8" fill="#a4a4a4" stroke="#2e2e2e" stroke-width="0.5"/><ellipse cx="0.3" cy="0" rx="1.8" ry="2.4" fill="#e4e4e4" stroke="#2e2e2e" stroke-width="0.5"/></g>
<g transform="translate(64.5,160) rotate(28)"><ellipse cx="-0.7" cy="0" rx="3.6" ry="4.8" fill="#666" stroke="#2e2e2e" stroke-width="0.5"/><ellipse cx="0.3" cy="0" rx="3.6" ry="4.8" fill="#a4a4a4" stroke="#2e2e2e" stroke-width="0.5"/><ellipse cx="0.3" cy="0" rx="1.8" ry="2.4" fill="#e4e4e4" stroke="#2e2e2e" stroke-width="0.5"/></g>
<g transform="translate(56.1,155.2) rotate(28)"><ellipse cx="0" cy="0" rx="2.2" ry="2.9" fill="#eee" stroke="#1e1e1e" stroke-width="1.15"/></g>
<g transform="translate(141,176.2) rotate(28)"><ellipse cx="-0.7" cy="0" rx="3.6" ry="4.8" fill="#666" stroke="#2e2e2e" stroke-width="0.5"/><ellipse cx="0.3" cy="0" rx="3.6" ry="4.8" fill="#a4a4a4" stroke="#2e2e2e" stroke-width="0.5"/><ellipse cx="0.3" cy="0" rx="1.8" ry="2.4" fill="#e4e4e4" stroke="#2e2e2e" stroke-width="0.5"/></g>
<g transform="translate(152.3,182.4) rotate(28)"><polygon points="2.91,2.10 0.00,4.20 -2.91,2.10 -2.91,-2.10 -0.00,-4.20 2.91,-2.10" fill="#6a6a6a" stroke="#1e1e1e" stroke-width="0.9" stroke-linejoin="round" transform="translate(-1.2,0)"/><polygon points="2.91,2.10 0.00,4.20 -2.91,2.10 -2.91,-2.10 -0.00,-4.20 2.91,-2.10" fill="#c4c4c4" stroke="#1e1e1e" stroke-width="0.8" stroke-linejoin="round" transform="translate(0.3,0)"/><ellipse cx="0.3" cy="0" rx="1.512" ry="1.9320000000000002" fill="#f2f2f2" stroke="#222" stroke-width="0.55"/></g>
<g transform="translate(130.2,247.6) rotate(27.65)"><rect x="3.7" y="-2.6" width="10.523923509355654" height="5.2" rx="1.2" fill="url(#gthr)" stroke="#2c2c2c" stroke-width="0.6"/><rect x="-0.8" y="-3.5" width="5.0" height="7.0" rx="1.6" fill="#b4b4b4" stroke="#262626" stroke-width="0.75"/><line x1="-0.6" y1="-1.1666666666666667" x2="4.2" y2="-1.1666666666666667" stroke="#333" stroke-width="0.45"/><line x1="-0.6" y1="1.1666666666666667" x2="4.2" y2="1.1666666666666667" stroke="#333" stroke-width="0.45"/></g>
<g transform="translate(251.1,317.8) rotate(28)"><ellipse cx="-0.7" cy="0" rx="3.6" ry="4.8" fill="#666" stroke="#2e2e2e" stroke-width="0.5"/><ellipse cx="0.3" cy="0" rx="3.6" ry="4.8" fill="#a4a4a4" stroke="#2e2e2e" stroke-width="0.5"/><ellipse cx="0.3" cy="0" rx="1.8" ry="2.4" fill="#e4e4e4" stroke="#2e2e2e" stroke-width="0.5"/></g>
<g transform="translate(261.5,324.3) rotate(28)"><polygon points="2.91,2.10 0.00,4.20 -2.91,2.10 -2.91,-2.10 -0.00,-4.20 2.91,-2.10" fill="#6a6a6a" stroke="#1e1e1e" stroke-width="0.9" stroke-linejoin="round" transform="translate(-1.2,0)"/><polygon points="2.91,2.10 0.00,4.20 -2.91,2.10 -2.91,-2.10 -0.00,-4.20 2.91,-2.10" fill="#c4c4c4" stroke="#1e1e1e" stroke-width="0.8" stroke-linejoin="round" transform="translate(0.3,0)"/><ellipse cx="0.3" cy="0" rx="1.512" ry="1.9320000000000002" fill="#f2f2f2" stroke="#222" stroke-width="0.55"/></g>
<g transform="translate(354,299) rotate(28)"><polygon points="2.91,2.10 0.00,4.20 -2.91,2.10 -2.91,-2.10 -0.00,-4.20 2.91,-2.10" fill="#6a6a6a" stroke="#1e1e1e" stroke-width="0.9" stroke-linejoin="round" transform="translate(-1.2,0)"/><polygon points="2.91,2.10 0.00,4.20 -2.91,2.10 -2.91,-2.10 -0.00,-4.20 2.91,-2.10" fill="#c4c4c4" stroke="#1e1e1e" stroke-width="0.8" stroke-linejoin="round" transform="translate(0.3,0)"/><ellipse cx="0.3" cy="0" rx="1.512" ry="1.9320000000000002" fill="#f2f2f2" stroke="#222" stroke-width="0.55"/></g>
<g transform="translate(366,305) rotate(28)"><ellipse cx="-0.7" cy="0" rx="3.6" ry="4.8" fill="#666" stroke="#2e2e2e" stroke-width="0.5"/><ellipse cx="0.3" cy="0" rx="3.6" ry="4.8" fill="#a4a4a4" stroke="#2e2e2e" stroke-width="0.5"/><ellipse cx="0.3" cy="0" rx="1.8" ry="2.4" fill="#e4e4e4" stroke="#2e2e2e" stroke-width="0.5"/></g>
<g transform="translate(470,228) rotate(28)"><polygon points="2.42,1.75 0.00,3.50 -2.42,1.75 -2.42,-1.75 -0.00,-3.50 2.42,-1.75" fill="#6a6a6a" stroke="#1e1e1e" stroke-width="0.9" stroke-linejoin="round" transform="translate(-1.2,0)"/><polygon points="2.42,1.75 0.00,3.50 -2.42,1.75 -2.42,-1.75 -0.00,-3.50 2.42,-1.75" fill="#c4c4c4" stroke="#1e1e1e" stroke-width="0.8" stroke-linejoin="round" transform="translate(0.3,0)"/><ellipse cx="0.3" cy="0" rx="1.26" ry="1.61" fill="#f2f2f2" stroke="#222" stroke-width="0.55"/></g>
<g transform="translate(477.2,232.4) rotate(28)"><ellipse cx="0" cy="0" rx="1.7" ry="2.3" fill="#eee" stroke="#1e1e1e" stroke-width="1.15"/></g>
<g transform="translate(485,236) rotate(28)"><ellipse cx="-0.7" cy="0" rx="3.8" ry="5.5" fill="#777" stroke="#333" stroke-width="0.5"/><ellipse cx="0.3" cy="0" rx="3.8" ry="5.5" fill="#b6b6b6" stroke="#262626" stroke-width="0.65"/><ellipse cx="0.3" cy="0" rx="1.125" ry="1.5" fill="#e8e8e8" stroke="#2e2e2e" stroke-width="0.5"/></g>
<g transform="translate(409.5,262.6) rotate(28)"><polygon points="2.42,1.75 0.00,3.50 -2.42,1.75 -2.42,-1.75 -0.00,-3.50 2.42,-1.75" fill="#6a6a6a" stroke="#1e1e1e" stroke-width="0.9" stroke-linejoin="round" transform="translate(-1.2,0)"/><polygon points="2.42,1.75 0.00,3.50 -2.42,1.75 -2.42,-1.75 -0.00,-3.50 2.42,-1.75" fill="#c4c4c4" stroke="#1e1e1e" stroke-width="0.8" stroke-linejoin="round" transform="translate(0.3,0)"/><ellipse cx="0.3" cy="0" rx="1.26" ry="1.61" fill="#f2f2f2" stroke="#222" stroke-width="0.55"/></g>
<g transform="translate(417,267.4) rotate(28)"><ellipse cx="0" cy="0" rx="1.7" ry="2.3" fill="#eee" stroke="#1e1e1e" stroke-width="1.15"/></g>
<g transform="translate(424.6,271.2) rotate(28)"><ellipse cx="-0.7" cy="0" rx="3.8" ry="5.5" fill="#777" stroke="#333" stroke-width="0.5"/><ellipse cx="0.3" cy="0" rx="3.8" ry="5.5" fill="#b6b6b6" stroke="#262626" stroke-width="0.65"/><ellipse cx="0.3" cy="0" rx="1.125" ry="1.5" fill="#e8e8e8" stroke="#2e2e2e" stroke-width="0.5"/></g>
<g transform="translate(513.5,253.6) rotate(28.26)"><path d="M0,-3.0 L18.16480112745526,-3.0 A1.6,3.0 0 0 1 18.16480112745526,3.0 L0,3.0 A1.6,3.0 0 0 1 0,-3.0 Z" fill="url(#gcyl)" stroke="#333" stroke-width="0.55"/><ellipse cx="18.16480112745526" cy="0" rx="1.6" ry="3.0" fill="#f4f4f4" stroke="#333" stroke-width="0.5"/><ellipse cx="18.16480112745526" cy="0" rx="0.9" ry="1.9" fill="#fff" stroke="#444" stroke-width="0.4"/><circle cx="13.078656811767786" cy="-0.3" r="0.45" fill="#333"/></g>
<g transform="translate(451.5,288.6) rotate(27.23)"><path d="M0,-3.0 L19.231484602078957,-3.0 A1.6,3.0 0 0 1 19.231484602078957,3.0 L0,3.0 A1.6,3.0 0 0 1 0,-3.0 Z" fill="url(#gcyl)" stroke="#333" stroke-width="0.55"/><ellipse cx="19.231484602078957" cy="0" rx="1.6" ry="3.0" fill="#f4f4f4" stroke="#333" stroke-width="0.5"/><ellipse cx="19.231484602078957" cy="0" rx="0.9" ry="1.9" fill="#fff" stroke="#444" stroke-width="0.4"/><circle cx="13.846668913496849" cy="-0.3" r="0.45" fill="#333"/></g>
<g transform="translate(537,267) rotate(28)"><ellipse cx="-0.7" cy="0" rx="3.8" ry="5.5" fill="#777" stroke="#333" stroke-width="0.5"/><ellipse cx="0.3" cy="0" rx="3.8" ry="5.5" fill="#b6b6b6" stroke="#262626" stroke-width="0.65"/><ellipse cx="0.3" cy="0" rx="1.125" ry="1.5" fill="#e8e8e8" stroke="#2e2e2e" stroke-width="0.5"/></g>
<g transform="translate(476,301) rotate(28)"><ellipse cx="-0.7" cy="0" rx="3.8" ry="5.5" fill="#777" stroke="#333" stroke-width="0.5"/><ellipse cx="0.3" cy="0" rx="3.8" ry="5.5" fill="#b6b6b6" stroke="#262626" stroke-width="0.65"/><ellipse cx="0.3" cy="0" rx="1.125" ry="1.5" fill="#e8e8e8" stroke="#2e2e2e" stroke-width="0.5"/></g>
<g transform="translate(571.5,286.3) rotate(-150.33)"><rect x="3.5" y="-2.0" width="27.00016393398568" height="4.0" rx="0.8" fill="url(#gcyl)" stroke="#333" stroke-width="0.55"/><rect x="21.350114753789974" y="-2.0" width="9.150049180195703" height="4.0" rx="0.8" fill="#a8a8a8" stroke="#333" stroke-width="0.5"/><rect x="-0.6" y="-3.0" width="4.6" height="6.0" rx="1.6" fill="#ececec" stroke="#2a2a2a" stroke-width="0.7"/><line x1="-0.4" y1="-1.0" x2="4.0" y2="-1.0" stroke="#333" stroke-width="0.4"/><line x1="-0.4" y1="1.0" x2="4.0" y2="1.0" stroke="#333" stroke-width="0.4"/></g>
<g transform="translate(511.5,321) rotate(-151.39)"><rect x="3.5" y="-2.0" width="27.82491021535417" height="4.0" rx="0.8" fill="url(#gcyl)" stroke="#333" stroke-width="0.55"/><rect x="21.927437150747917" y="-2.0" width="9.39747306460625" height="4.0" rx="0.8" fill="#a8a8a8" stroke="#333" stroke-width="0.5"/><rect x="-0.6" y="-3.0" width="4.6" height="6.0" rx="1.6" fill="#ececec" stroke="#2a2a2a" stroke-width="0.7"/><line x1="-0.4" y1="-1.0" x2="4.0" y2="-1.0" stroke="#333" stroke-width="0.4"/><line x1="-0.4" y1="1.0" x2="4.0" y2="1.0" stroke="#333" stroke-width="0.4"/></g>
<g transform="translate(434.6,344) rotate(28)"><ellipse cx="-0.7" cy="0" rx="3.6" ry="4.8" fill="#666" stroke="#2e2e2e" stroke-width="0.5"/><ellipse cx="0.3" cy="0" rx="3.6" ry="4.8" fill="#a4a4a4" stroke="#2e2e2e" stroke-width="0.5"/><ellipse cx="0.3" cy="0" rx="1.8" ry="2.4" fill="#e4e4e4" stroke="#2e2e2e" stroke-width="0.5"/></g>
<g transform="translate(410.4,358.6) rotate(28)"><ellipse cx="-0.7" cy="0" rx="3.6" ry="4.8" fill="#666" stroke="#2e2e2e" stroke-width="0.5"/><ellipse cx="0.3" cy="0" rx="3.6" ry="4.8" fill="#a4a4a4" stroke="#2e2e2e" stroke-width="0.5"/><ellipse cx="0.3" cy="0" rx="1.8" ry="2.4" fill="#e4e4e4" stroke="#2e2e2e" stroke-width="0.5"/></g>
<g transform="translate(419,365) rotate(28)"><ellipse cx="0" cy="0" rx="2.2" ry="2.9" fill="#eee" stroke="#1e1e1e" stroke-width="1.15"/></g>
<g transform="translate(464.3,363.2) rotate(-150.56)"><rect x="3.7" y="-2.6" width="12.375136080294926" height="5.2" rx="1.2" fill="url(#gthr)" stroke="#2c2c2c" stroke-width="0.6"/><rect x="-0.8" y="-3.5" width="5.0" height="7.0" rx="1.6" fill="#b4b4b4" stroke="#262626" stroke-width="0.75"/><line x1="-0.6" y1="-1.1666666666666667" x2="4.2" y2="-1.1666666666666667" stroke="#333" stroke-width="0.45"/><line x1="-0.6" y1="1.1666666666666667" x2="4.2" y2="1.1666666666666667" stroke="#333" stroke-width="0.45"/></g>
<g transform="translate(440.4,377.2) rotate(-148.39)"><rect x="3.7" y="-2.6" width="11.564337522473746" height="5.2" rx="1.2" fill="url(#gthr)" stroke="#2c2c2c" stroke-width="0.6"/><rect x="-0.8" y="-3.5" width="5.0" height="7.0" rx="1.6" fill="#b4b4b4" stroke="#262626" stroke-width="0.75"/><line x1="-0.6" y1="-1.1666666666666667" x2="4.2" y2="-1.1666666666666667" stroke="#333" stroke-width="0.45"/><line x1="-0.6" y1="1.1666666666666667" x2="4.2" y2="1.1666666666666667" stroke="#333" stroke-width="0.45"/></g>
<line x1="44" y1="28.4" x2="64.5" y2="28.4" stroke="#363636" stroke-width="0.7"/>
<line x1="64.5" y1="28.4" x2="115" y2="25" stroke="#363636" stroke-width="0.7"/>
<line x1="64" y1="28.4" x2="58" y2="57.5" stroke="#363636" stroke-width="0.7"/>
<text x="55.5" y="25.8" font-size="13.7" text-anchor="middle" textLength="10.0" lengthAdjust="spacingAndGlyphs" class="lb">14</text>
<line x1="70" y1="47.4" x2="90.5" y2="47.4" stroke="#363636" stroke-width="0.7"/>
<line x1="90.5" y1="47.4" x2="146.5" y2="43" stroke="#363636" stroke-width="0.7"/>
<line x1="90" y1="47.4" x2="89" y2="73.5" stroke="#363636" stroke-width="0.7"/>
<text x="82" y="44.8" font-size="13.7" text-anchor="middle" textLength="11.6" lengthAdjust="spacingAndGlyphs" class="lb">20</text>
<line x1="92.5" y1="62.6" x2="116" y2="62.6" stroke="#363636" stroke-width="0.7"/>
<line x1="116" y1="62.6" x2="163.5" y2="55.2" stroke="#363636" stroke-width="0.7"/>
<line x1="113" y1="62.6" x2="110" y2="87.6" stroke="#363636" stroke-width="0.7"/>
<text x="103.5" y="60.0" font-size="13.7" text-anchor="middle" textLength="5.8" lengthAdjust="spacingAndGlyphs" class="lb">3</text>
<line x1="183" y1="29.4" x2="203.5" y2="29.4" stroke="#363636" stroke-width="0.7"/>
<line x1="203.5" y1="29.4" x2="215.8" y2="78" stroke="#363636" stroke-width="0.7"/>
<text x="194.8" y="26.8" font-size="13.7" text-anchor="middle" textLength="10.0" lengthAdjust="spacingAndGlyphs" class="lb">16</text>
<line x1="182.5" y1="46" x2="201" y2="46" stroke="#363636" stroke-width="0.7"/>
<line x1="201" y1="46" x2="208" y2="75" stroke="#363636" stroke-width="0.7"/>
<text x="193" y="43.4" font-size="13.7" text-anchor="middle" textLength="10.0" lengthAdjust="spacingAndGlyphs" class="lb">18</text>
<line x1="190" y1="108.7" x2="210.5" y2="108.7" stroke="#363636" stroke-width="0.7"/>
<line x1="190" y1="108.7" x2="144.5" y2="105.2" stroke="#363636" stroke-width="0.7"/>
<line x1="190.4" y1="108.7" x2="200" y2="78" stroke="#363636" stroke-width="0.7"/>
<text x="201.5" y="106.1" font-size="13.7" text-anchor="middle" textLength="11.6" lengthAdjust="spacingAndGlyphs" class="lb">20</text>
<line x1="120.5" y1="140.8" x2="140.5" y2="140.8" stroke="#363636" stroke-width="0.7"/>
<line x1="140.5" y1="140.8" x2="147.6" y2="113.8" stroke="#363636" stroke-width="0.7"/>
<text x="131.6" y="138.2" font-size="13.7" text-anchor="middle" textLength="10.0" lengthAdjust="spacingAndGlyphs" class="lb">18</text>
<line x1="146" y1="140.8" x2="166" y2="140.8" stroke="#363636" stroke-width="0.7"/>
<line x1="146" y1="140.8" x2="153.8" y2="118.8" stroke="#363636" stroke-width="0.7"/>
<text x="157.5" y="138.2" font-size="13.7" text-anchor="middle" textLength="10.0" lengthAdjust="spacingAndGlyphs" class="lb">16</text>
<line x1="55" y1="107.2" x2="75" y2="107.2" stroke="#363636" stroke-width="0.7"/>
<line x1="75" y1="107.2" x2="77" y2="134.5" stroke="#363636" stroke-width="0.7"/>
<line x1="75" y1="107.2" x2="67.5" y2="156" stroke="#363636" stroke-width="0.7"/>
<text x="66.5" y="104.6" font-size="13.7" text-anchor="middle" textLength="10.0" lengthAdjust="spacingAndGlyphs" class="lb">21</text>
<line x1="13" y1="118.4" x2="33" y2="118.4" stroke="#363636" stroke-width="0.7"/>
<line x1="33" y1="118.4" x2="55" y2="125.3" stroke="#363636" stroke-width="0.7"/>
<line x1="33" y1="118.4" x2="39" y2="143" stroke="#363636" stroke-width="0.7"/>
<text x="25" y="115.8" font-size="13.7" text-anchor="middle" textLength="10.0" lengthAdjust="spacingAndGlyphs" class="lb">15</text>
<line x1="22" y1="179" x2="43" y2="179" stroke="#363636" stroke-width="0.7"/>
<line x1="43" y1="179" x2="55.5" y2="156.5" stroke="#363636" stroke-width="0.7"/>
<text x="34" y="176.4" font-size="13.7" text-anchor="middle" textLength="10.0" lengthAdjust="spacingAndGlyphs" class="lb">19</text>
<line x1="43" y1="202.5" x2="63" y2="202.5" stroke="#363636" stroke-width="0.7"/>
<line x1="63" y1="202.5" x2="76.8" y2="176" stroke="#363636" stroke-width="0.7"/>
<text x="55" y="199.9" font-size="13.7" text-anchor="middle" textLength="5.8" lengthAdjust="spacingAndGlyphs" class="lb">2</text>
<line x1="167" y1="168.2" x2="187" y2="168.2" stroke="#363636" stroke-width="0.7"/>
<line x1="167" y1="168.2" x2="154" y2="180" stroke="#363636" stroke-width="0.7"/>
<text x="179" y="165.6" font-size="13.7" text-anchor="middle" textLength="10.0" lengthAdjust="spacingAndGlyphs" class="lb">17</text>
<line x1="160" y1="197" x2="179.5" y2="197" stroke="#363636" stroke-width="0.7"/>
<line x1="160" y1="197" x2="140.6" y2="180" stroke="#363636" stroke-width="0.7"/>
<text x="171" y="194.4" font-size="13.7" text-anchor="middle" textLength="10.0" lengthAdjust="spacingAndGlyphs" class="lb">21</text>
<line x1="199" y1="218" x2="217.5" y2="218" stroke="#363636" stroke-width="0.7"/>
<line x1="199" y1="218" x2="180" y2="242.3" stroke="#363636" stroke-width="0.7"/>
<text x="209.5" y="215.4" font-size="13.7" text-anchor="middle" textLength="4.2" lengthAdjust="spacingAndGlyphs" class="lb">1</text>
<circle cx="180" cy="242.3" r="0.6" fill="#222"/>
<line x1="97.5" y1="231" x2="117.5" y2="231" stroke="#363636" stroke-width="0.7"/>
<line x1="117.5" y1="231" x2="130" y2="245" stroke="#363636" stroke-width="0.7"/>
<text x="110" y="228.4" font-size="13.7" text-anchor="middle" textLength="10.0" lengthAdjust="spacingAndGlyphs" class="lb">15</text>
<line x1="115.5" y1="289.2" x2="135.5" y2="289.2" stroke="#363636" stroke-width="0.7"/>
<line x1="135.5" y1="289.2" x2="150.4" y2="277.5" stroke="#363636" stroke-width="0.7"/>
<text x="126" y="286.6" font-size="13.7" text-anchor="middle" textLength="5.8" lengthAdjust="spacingAndGlyphs" class="lb">4</text>
<line x1="62" y1="290" x2="71" y2="290" stroke="#363636" stroke-width="0.7"/>
<line x1="69.5" y1="290" x2="88" y2="308.5" stroke="#363636" stroke-width="0.7"/>
<text x="66" y="287.4" font-size="13.7" text-anchor="middle" textLength="5.8" lengthAdjust="spacingAndGlyphs" class="lb">6</text>
<line x1="124" y1="312" x2="134" y2="312" stroke="#363636" stroke-width="0.7"/>
<line x1="125.3" y1="312" x2="119" y2="329.5" stroke="#363636" stroke-width="0.7"/>
<text x="131" y="309.4" font-size="13.7" text-anchor="middle" textLength="10.0" lengthAdjust="spacingAndGlyphs" class="lb">10</text>
<line x1="53.4" y1="375.9" x2="62" y2="375.9" stroke="#363636" stroke-width="0.7"/>
<line x1="62" y1="375.9" x2="82.5" y2="385" stroke="#363636" stroke-width="0.7"/>
<text x="57.4" y="373.3" font-size="13.7" text-anchor="middle" textLength="5.8" lengthAdjust="spacingAndGlyphs" class="lb">8</text>
<line x1="54.3" y1="397.1" x2="63.5" y2="397.1" stroke="#363636" stroke-width="0.7"/>
<line x1="63.5" y1="397.1" x2="85.3" y2="404.6" stroke="#363636" stroke-width="0.7"/>
<text x="59.6" y="394.5" font-size="13.7" text-anchor="middle" textLength="5.8" lengthAdjust="spacingAndGlyphs" class="lb">7</text>
<line x1="152.6" y1="379.2" x2="172.7" y2="379.2" stroke="#363636" stroke-width="0.7"/>
<line x1="152.6" y1="379.2" x2="131.2" y2="365.4" stroke="#363636" stroke-width="0.7"/>
<text x="164.4" y="376.6" font-size="13.7" text-anchor="middle" textLength="5.8" lengthAdjust="spacingAndGlyphs" class="lb">5</text>
<circle cx="131.2" cy="365.4" r="0.6" fill="#222"/>
<line x1="138.5" y1="399" x2="148" y2="399" stroke="#363636" stroke-width="0.7"/>
<line x1="138.5" y1="399" x2="119.8" y2="384" stroke="#363636" stroke-width="0.7"/>
<text x="146.6" y="396.4" font-size="13.7" text-anchor="middle" textLength="8.4" lengthAdjust="spacingAndGlyphs" class="lb">11</text>
<line x1="209.5" y1="366.5" x2="230.8" y2="366.5" stroke="#363636" stroke-width="0.7"/>
<line x1="209.5" y1="366.5" x2="198.8" y2="357.8" stroke="#363636" stroke-width="0.7"/>
<text x="222.7" y="363.9" font-size="13.7" text-anchor="middle" textLength="10.0" lengthAdjust="spacingAndGlyphs" class="lb">13</text>
<line x1="226" y1="398.2" x2="235" y2="398.2" stroke="#363636" stroke-width="0.7"/>
<line x1="226" y1="398.2" x2="210.5" y2="383" stroke="#363636" stroke-width="0.7"/>
<text x="232.5" y="395.6" font-size="13.7" text-anchor="middle" textLength="5.8" lengthAdjust="spacingAndGlyphs" class="lb">9</text>
<line x1="293.5" y1="389.7" x2="314.5" y2="389.7" stroke="#363636" stroke-width="0.7"/>
<line x1="293.5" y1="389.7" x2="269.3" y2="375" stroke="#363636" stroke-width="0.7"/>
<text x="306.8" y="387.1" font-size="13.7" text-anchor="middle" textLength="10.0" lengthAdjust="spacingAndGlyphs" class="lb">12</text>
<line x1="226" y1="340" x2="246" y2="340" stroke="#363636" stroke-width="0.7"/>
<line x1="246" y1="340" x2="249.8" y2="322" stroke="#363636" stroke-width="0.7"/>
<text x="237.5" y="337.4" font-size="13.7" text-anchor="middle" textLength="10.0" lengthAdjust="spacingAndGlyphs" class="lb">21</text>
<line x1="232.5" y1="355.7" x2="253.3" y2="355.7" stroke="#363636" stroke-width="0.7"/>
<line x1="253.3" y1="355.7" x2="260.3" y2="328" stroke="#363636" stroke-width="0.7"/>
<text x="244" y="353.1" font-size="13.7" text-anchor="middle" textLength="10.0" lengthAdjust="spacingAndGlyphs" class="lb">17</text>
<line x1="349.5" y1="266" x2="369.5" y2="266" stroke="#363636" stroke-width="0.7"/>
<line x1="369.5" y1="266" x2="406.5" y2="261.3" stroke="#363636" stroke-width="0.7"/>
<text x="360" y="263.4" font-size="13.7" text-anchor="middle" textLength="10.0" lengthAdjust="spacingAndGlyphs" class="lb">16</text>
<line x1="380.5" y1="277.5" x2="400.5" y2="277.5" stroke="#363636" stroke-width="0.7"/>
<line x1="400.5" y1="277.5" x2="415" y2="269" stroke="#363636" stroke-width="0.7"/>
<text x="391.5" y="274.9" font-size="13.7" text-anchor="middle" textLength="10.0" lengthAdjust="spacingAndGlyphs" class="lb">18</text>
<line x1="368" y1="294.6" x2="389" y2="294.6" stroke="#363636" stroke-width="0.7"/>
<line x1="389" y1="294.6" x2="421" y2="275.5" stroke="#363636" stroke-width="0.7"/>
<text x="379.5" y="292.0" font-size="13.7" text-anchor="middle" textLength="11.6" lengthAdjust="spacingAndGlyphs" class="lb">20</text>
<line x1="317" y1="285" x2="337.5" y2="285" stroke="#363636" stroke-width="0.7"/>
<line x1="337.5" y1="285" x2="352.3" y2="296" stroke="#363636" stroke-width="0.7"/>
<text x="329" y="282.4" font-size="13.7" text-anchor="middle" textLength="10.0" lengthAdjust="spacingAndGlyphs" class="lb">17</text>
<line x1="316" y1="303" x2="336" y2="303" stroke="#363636" stroke-width="0.7"/>
<line x1="336" y1="303" x2="363.5" y2="307.6" stroke="#363636" stroke-width="0.7"/>
<text x="327.5" y="300.4" font-size="13.7" text-anchor="middle" textLength="10.0" lengthAdjust="spacingAndGlyphs" class="lb">21</text>
<line x1="351" y1="367.5" x2="371" y2="367.5" stroke="#363636" stroke-width="0.7"/>
<line x1="371" y1="367.5" x2="391.2" y2="356.3" stroke="#363636" stroke-width="0.7"/>
<text x="361" y="364.9" font-size="13.7" text-anchor="middle" textLength="5.8" lengthAdjust="spacingAndGlyphs" class="lb">2</text>
<line x1="374.5" y1="380" x2="395.2" y2="380" stroke="#363636" stroke-width="0.7"/>
<line x1="395.2" y1="380" x2="418.3" y2="366" stroke="#363636" stroke-width="0.7"/>
<text x="386" y="377.4" font-size="13.7" text-anchor="middle" textLength="10.0" lengthAdjust="spacingAndGlyphs" class="lb">19</text>
<line x1="539" y1="187" x2="559" y2="187" stroke="#363636" stroke-width="0.7"/>
<line x1="539" y1="187" x2="471" y2="226.3" stroke="#363636" stroke-width="0.7"/>
<text x="550" y="184.4" font-size="13.7" text-anchor="middle" textLength="10.0" lengthAdjust="spacingAndGlyphs" class="lb">16</text>
<line x1="520.5" y1="207.5" x2="540.5" y2="207.5" stroke="#363636" stroke-width="0.7"/>
<line x1="520.5" y1="207.5" x2="478.3" y2="231.3" stroke="#363636" stroke-width="0.7"/>
<text x="532" y="204.9" font-size="13.7" text-anchor="middle" textLength="10.0" lengthAdjust="spacingAndGlyphs" class="lb">18</text>
<line x1="502" y1="227.5" x2="522.5" y2="227.5" stroke="#363636" stroke-width="0.7"/>
<line x1="502" y1="227.5" x2="487.5" y2="235" stroke="#363636" stroke-width="0.7"/>
<text x="513.6" y="224.9" font-size="13.7" text-anchor="middle" textLength="11.6" lengthAdjust="spacingAndGlyphs" class="lb">20</text>
<line x1="514.5" y1="293" x2="534" y2="293" stroke="#363636" stroke-width="0.7"/>
<line x1="514.5" y1="293" x2="520" y2="257" stroke="#363636" stroke-width="0.7"/>
<line x1="514.5" y1="293" x2="460.5" y2="291" stroke="#363636" stroke-width="0.7"/>
<text x="525" y="290.4" font-size="13.7" text-anchor="middle" textLength="5.8" lengthAdjust="spacingAndGlyphs" class="lb">3</text>
<line x1="540" y1="304" x2="560" y2="304" stroke="#363636" stroke-width="0.7"/>
<line x1="540" y1="304" x2="539" y2="269.5" stroke="#363636" stroke-width="0.7"/>
<line x1="540" y1="304" x2="479" y2="302" stroke="#363636" stroke-width="0.7"/>
<text x="551" y="301.4" font-size="13.7" text-anchor="middle" textLength="11.6" lengthAdjust="spacingAndGlyphs" class="lb">20</text>
<line x1="562.5" y1="321.2" x2="582.5" y2="321.2" stroke="#363636" stroke-width="0.7"/>
<line x1="562.5" y1="321.2" x2="571" y2="289.5" stroke="#363636" stroke-width="0.7"/>
<line x1="562.5" y1="321.2" x2="513" y2="321.2" stroke="#363636" stroke-width="0.7"/>
<text x="574" y="318.6" font-size="13.7" text-anchor="middle" textLength="10.0" lengthAdjust="spacingAndGlyphs" class="lb">14</text>
<line x1="457.5" y1="346" x2="477.5" y2="346" stroke="#363636" stroke-width="0.7"/>
<line x1="457.5" y1="346" x2="439" y2="344.2" stroke="#363636" stroke-width="0.7"/>
<line x1="456" y1="346.3" x2="414" y2="359.3" stroke="#363636" stroke-width="0.7"/>
<text x="469.5" y="343.4" font-size="13.7" text-anchor="middle" textLength="10.0" lengthAdjust="spacingAndGlyphs" class="lb">21</text>
<line x1="466" y1="392" x2="487" y2="392" stroke="#363636" stroke-width="0.7"/>
<line x1="466" y1="392" x2="464" y2="367" stroke="#363636" stroke-width="0.7"/>
<line x1="466" y1="392" x2="441.5" y2="378.3" stroke="#363636" stroke-width="0.7"/>
<text x="479" y="389.4" font-size="13.7" text-anchor="middle" textLength="10.0" lengthAdjust="spacingAndGlyphs" class="lb">15</text>
</g></svg></body></html>
